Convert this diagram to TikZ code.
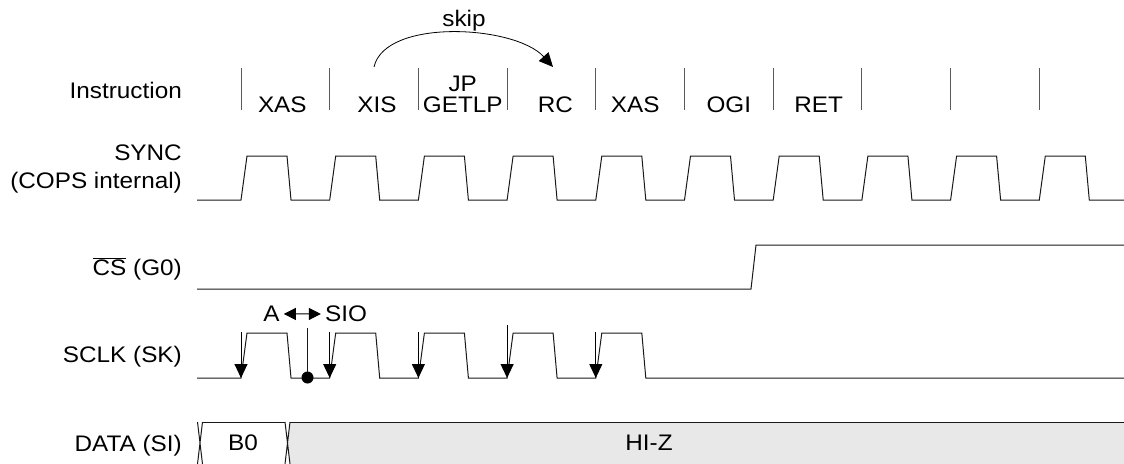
\documentclass[tikz,border=0pt]{standalone}
\usepackage{fontspec}
\setmainfont{Liberation Sans}[FakeStretch=1.08]
\usetikzlibrary{arrows.meta}

\tikzset{
    lbl/.style={anchor=base east, inner sep=0pt},
    txt/.style={anchor=base, inner sep=0pt},
    wave/.style={line width=1pt, black!90},
    tick/.style={line width=1pt, black!65},
    pin/.style={line width=1pt, -{Triangle[length=14pt,width=13pt]}},
}

\begin{document}
\begin{tikzpicture}[x=1pt, y=-1pt, font=\fontsize{22.5}{28}\selectfont]
\useasboundingbox (0,0) rectangle (1124,463);
\def\per{88.7}

%Nodes
\node[lbl]                  (instr) at (182,98)    {Instruction};
\node[lbl, align=right]     (sync)  at (182,188)   {SYNC\\(COPS internal)};
\node[lbl]                  (cs)    at (182,275)   {$\overline{\mbox{CS}}$ (G0)};
\node[lbl]                  (sclk)  at (182,362.7) {SCLK (SK)};
\node[lbl]                  (data)  at (182,451.7) {DATA (SI)};

\foreach \k/\name/\dx in {0/XAS/-3, 1/XIS/3, 3/RC/4, 4/XAS/-5, 5/OGI/0, 6/RET/1}
    \node[txt] (ins\k) at ({241+(\k+0.5)*\per+\dx},112) {\name};
\node[txt, align=center, font=\fontsize{22.5}{21}\selectfont]
    (ins2) at ({241+2.5*\per},112) {JP\\GETLP};

\node[txt]  (skip)  at (464,27)      {skip};
\node[txt]  (a)     at (271.5,321.7) {A};
\node[txt]  (sio)   at (346,321.7)   {SIO};
\node[inner sep=0pt] (b0)  at (243,443) {B0};

\coordinate (skipa) at (374,67);
\coordinate (skipb) at (553,67);

%Lines
\foreach \k in {0,...,9}
    \draw[tick] ({241+\k*\per},68) -- ({241+\k*\per},110);

\draw[pin, line width=0.8pt] (skipa) .. controls (385,18) and (515,25) .. (skipb);

% SYNC
\draw[wave] (197,200) \foreach \k in {0,...,9} {
    -- ({241+\k*\per},200) -- ({247+\k*\per},156)
    -- ({287+\k*\per},156) -- ({291+\k*\per},200)} -- (1124,200);

% CS
\draw[wave] (197,289) -- (751,289) -- (756,245) -- (1124,245);

% SCLK
\draw[wave] (197,378) \foreach \k in {0,...,4} {
    -- ({241+\k*\per},378) -- ({247+\k*\per},333)
    -- ({287+\k*\per},333) -- ({291+\k*\per},378)} -- (1124,378);

\foreach \k in {0,1,2,4}
    \draw[pin] ({241+\k*\per},332) -- ({241+\k*\per},378);
\draw[pin] ({241+3*\per},325) -- ({241+3*\per},378);

\draw[wave] (307.5,328) -- (307.5,377.5);
\fill (307.5,377.5) circle (6pt);

\draw[line width=1pt, {Triangle[length=12pt,width=12pt]}-{Triangle[length=12pt,width=12pt]},
    shorten <=4pt, shorten >=4pt] (a.east) -- (sio.west);

% DATA
\fill[black!9] (287.5,443) -- (290,422) -- (1124,422) -- (1124,464) -- (290,464) -- cycle;
\draw[wave] (197.5,422) -- (202.5,464) (202.5,422) -- (197.5,464);
\draw[wave] (202.5,422) -- (285,422);
\draw[wave] (285,422) -- (290,464) (290,422) -- (285,464);
\draw[wave] (290,422) -- (1124,422);
\node[inner sep=0pt] (hiz) at (649,443) {HI-Z};
\end{tikzpicture}
\end{document}
